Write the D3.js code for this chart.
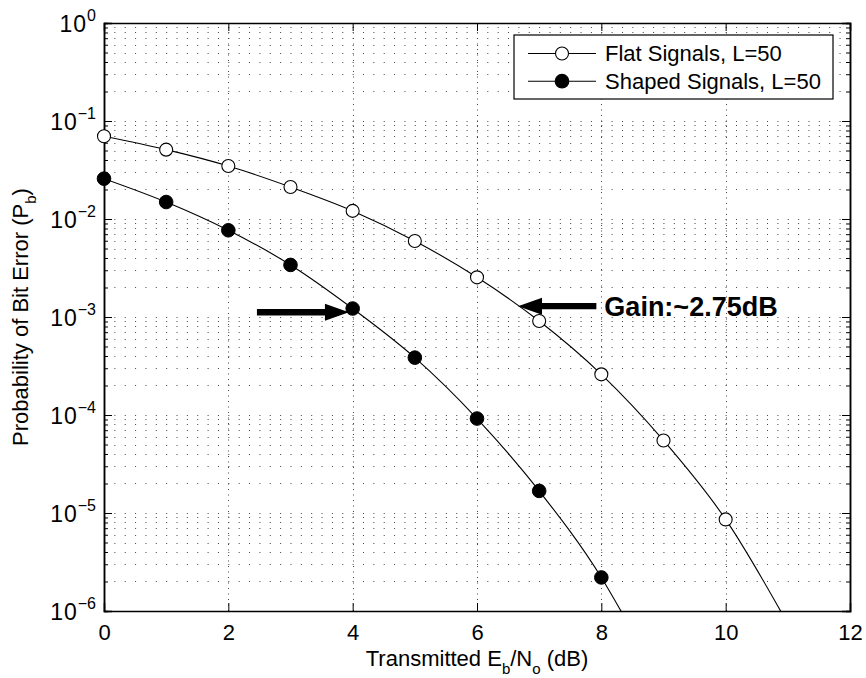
<!DOCTYPE html>
<html>
<head>
<meta charset="utf-8">
<script src="https://cdn.jsdelivr.net/npm/d3@7"></script>
<style>
  body { margin: 0; background: #fff; }
  svg { font-family: "Liberation Sans", Arial, sans-serif; }
</style>
</head>
<body>
<svg id="chart" width="866" height="678"></svg>
<script>
// Bit error probability vs Eb/No
const xTicks = [0, 2, 4, 6, 8, 10, 12];
const yExponents = [-6, -5, -4, -3, -2, -1, 0];

const flatEbNo = [0, 1, 2, 3, 4, 5, 6, 7, 8, 9, 10];
const flatPb = [0.0698, 0.051, 0.0347, 0.0212, 0.0121, 0.00597, 0.00254, 0.00091, 0.00026, 5.5e-5, 8.6e-6];
const shapedEbNo = [0, 1, 2, 3, 4, 5, 6, 7, 8];
const shapedPb = [0.0258, 0.0149, 0.00767, 0.0034, 0.00122, 0.000385, 9.2e-5, 1.68e-5, 2.2e-6];

// curve continues below the plot floor
const flatTail = { x: 11, pb: 7.4e-7 };
const shapedTail = { x: 8.5, pb: 6.2e-7 };

const seriesNames = ['Flat Signals, L=50', 'Shaped Signals, L=50'];

// annotation arrows (data coords)
const leftArrow = { x0: 2.46, x1: 3.94, pb: 1.12e-3 };
const rightArrow = { x0: 7.92, x1: 6.66, pb: 1.29e-3 };
const gainText = 'Gain:~2.75dB';

const margin = { top: 23, right: 16, bottom: 67, left: 104 };
const width = 866 - margin.left - margin.right;
const height = 678 - margin.top - margin.bottom;

const svg = d3.select('#chart');
const g = svg.append('g').attr('transform', `translate(${margin.left},${margin.top})`);

const x = d3.scaleLinear().domain([0, 12]).range([0, width]);
const y = d3.scaleLog().domain([1e-6, 1]).range([height, 0]);

const yMajor = yExponents.map(e => Math.pow(10, e));
const yMinor = [];
yExponents.slice(0, -1).forEach(e => {
  for (let k = 2; k <= 9; k++) yMinor.push(k * Math.pow(10, e));
});

// grid
const grid = g.append('g').attr('stroke', '#444').attr('stroke-width', 1).attr('stroke-dasharray', '1,9.36');
grid.selectAll('.hgrid')
  .data(yMajor.concat(yMinor).filter(v => v > 1e-6 && v < 1))
  .enter().append('line')
  .attr('x1', 0).attr('x2', width)
  .attr('y1', d => Math.round(y(d)) + 0.5).attr('y2', d => Math.round(y(d)) + 0.5);
grid.selectAll('.vgrid')
  .data(xTicks.filter(v => v > 0 && v < 12))
  .enter().append('line')
  .attr('x1', d => Math.round(x(d)) + 0.5).attr('x2', d => Math.round(x(d)) + 0.5)
  .attr('y1', height).attr('y2', 0)
  .attr('stroke-dasharray', '1,4.5');

// axes with inward ticks
const fs = 22;
const xAxis = g.append('g').attr('transform', `translate(0,${height})`)
  .call(d3.axisBottom(x).tickValues(xTicks).tickSize(-8).tickPadding(13).tickFormat(d3.format('d')));
g.append('g')
  .call(d3.axisTop(x).tickValues(xTicks).tickSize(-8).tickFormat(''));
g.append('g')
  .call(d3.axisLeft(y).tickValues(yMajor).tickSize(-8).tickFormat(''));
g.append('g')
  .call(d3.axisLeft(y).tickValues(yMinor).tickSize(-4).tickFormat(''));
g.append('g').attr('transform', `translate(${width},0)`)
  .call(d3.axisRight(y).tickValues(yMajor).tickSize(-8).tickFormat(''));
g.append('g').attr('transform', `translate(${width},0)`)
  .call(d3.axisRight(y).tickValues(yMinor).tickSize(-4).tickFormat(''));

g.selectAll('.domain').attr('stroke', '#000').attr('stroke-width', 1.5);
g.selectAll('.tick line').attr('stroke', '#000');
xAxis.selectAll('text').attr('font-size', fs).attr('fill', '#000')
  .attr('font-family', '"Liberation Sans", Arial, sans-serif');

// y tick labels 10^n
yExponents.forEach(e => {
  const t = g.append('text')
    .attr('x', -8)
    .attr('y', y(Math.pow(10, e)) + 8.5)
    .attr('text-anchor', 'end')
    .attr('font-size', 23);
  t.append('tspan').attr('letter-spacing', 1).text('10');
  t.append('tspan').attr('dy', -10.5).attr('font-size', 16).text(e < 0 ? '\u2212' + (-e) : String(e));
});

// curves
svg.append('defs').append('clipPath').attr('id', 'plotClip')
  .append('rect').attr('width', width).attr('height', height);

const line = d3.line()
  .x(d => x(d[0]))
  .y(d => y(d[1]))
  .curve(d3.curveMonotoneX);

const flatLine = flatEbNo.map((v, i) => [v, flatPb[i]]).concat([[flatTail.x, flatTail.pb]]);
const shapedLine = shapedEbNo.map((v, i) => [v, shapedPb[i]]).concat([[shapedTail.x, shapedTail.pb]]);

const curves = g.append('g').attr('clip-path', 'url(#plotClip)');
[flatLine, shapedLine].forEach(data => {
  curves.append('path')
    .attr('d', line(data))
    .attr('fill', 'none')
    .attr('stroke', '#000')
    .attr('stroke-width', 1.1);
});

g.selectAll('.flat-pt')
  .data(flatEbNo.map((v, i) => [v, flatPb[i]]))
  .enter().append('circle')
  .attr('cx', d => x(d[0])).attr('cy', d => y(d[1])).attr('r', 6.5)
  .attr('fill', '#fff').attr('stroke', '#000').attr('stroke-width', 1.1);

g.selectAll('.shaped-pt')
  .data(shapedEbNo.map((v, i) => [v, shapedPb[i]]))
  .enter().append('circle')
  .attr('cx', d => x(d[0])).attr('cy', d => y(d[1])).attr('r', 6.8)
  .attr('fill', '#000').attr('stroke', '#000');

// arrows
function arrowPath(x0, x1, yy) {
  const dir = x1 > x0 ? 1 : -1;
  const headLen = 24, headHalf = 8.5, shaftHalf = 3.2;
  const xb = x1 - dir * headLen;
  return `M${x0},${yy - shaftHalf}L${xb},${yy - shaftHalf}L${xb},${yy - headHalf}L${x1},${yy}` +
    `L${xb},${yy + headHalf}L${xb},${yy + shaftHalf}L${x0},${yy + shaftHalf}Z`;
}
[leftArrow, rightArrow].forEach(a => {
  g.append('path')
    .attr('d', arrowPath(x(a.x0), x(a.x1), y(a.pb)))
    .attr('fill', '#000');
});
g.append('text')
  .attr('x', x(rightArrow.x0) + 8)
  .attr('y', y(rightArrow.pb) + 10)
  .attr('font-size', 27)
  .attr('font-weight', 'bold')
  .text(gainText);

// legend
const legend = g.append('g').attr('transform', `translate(${width - 336},12)`);
legend.append('rect')
  .attr('width', 319).attr('height', 64)
  .attr('fill', '#fff').attr('stroke', '#000').attr('stroke-width', 1.2);
seriesNames.forEach((name, i) => {
  const row = legend.append('g').attr('transform', `translate(0,${18.5 + i * 27.7})`);
  row.append('line').attr('x1', 14).attr('x2', 82).attr('stroke', '#000').attr('stroke-width', 1.1);
  row.append('circle').attr('cx', 48).attr('r', i === 0 ? 6.5 : 6.8)
    .attr('fill', i === 0 ? '#fff' : '#000').attr('stroke', '#000').attr('stroke-width', 1.1);
  row.append('text').attr('x', 91).attr('y', 7.8).attr('font-size', fs).text(name);
});

// axis titles
const xt = g.append('text')
  .attr('x', width / 2).attr('y', height + 55)
  .attr('text-anchor', 'middle').attr('font-size', fs);
xt.append('tspan').text('Transmitted E');
xt.append('tspan').attr('dy', 8).attr('font-size', 15).text('b');
xt.append('tspan').attr('dy', -8).text('/N');
xt.append('tspan').attr('dy', 8).attr('font-size', 15).text('o');
xt.append('tspan').attr('dy', -8).text(' (dB)');

const yt = g.append('text')
  .attr('transform', `translate(${-76},${height / 2}) rotate(-90)`)
  .attr('text-anchor', 'middle').attr('font-size', fs);
yt.append('tspan').text('Probability of Bit Error (P');
yt.append('tspan').attr('dy', 8).attr('font-size', 15).text('b');
yt.append('tspan').attr('dy', -8).text(')');
</script>
</body>
</html>
